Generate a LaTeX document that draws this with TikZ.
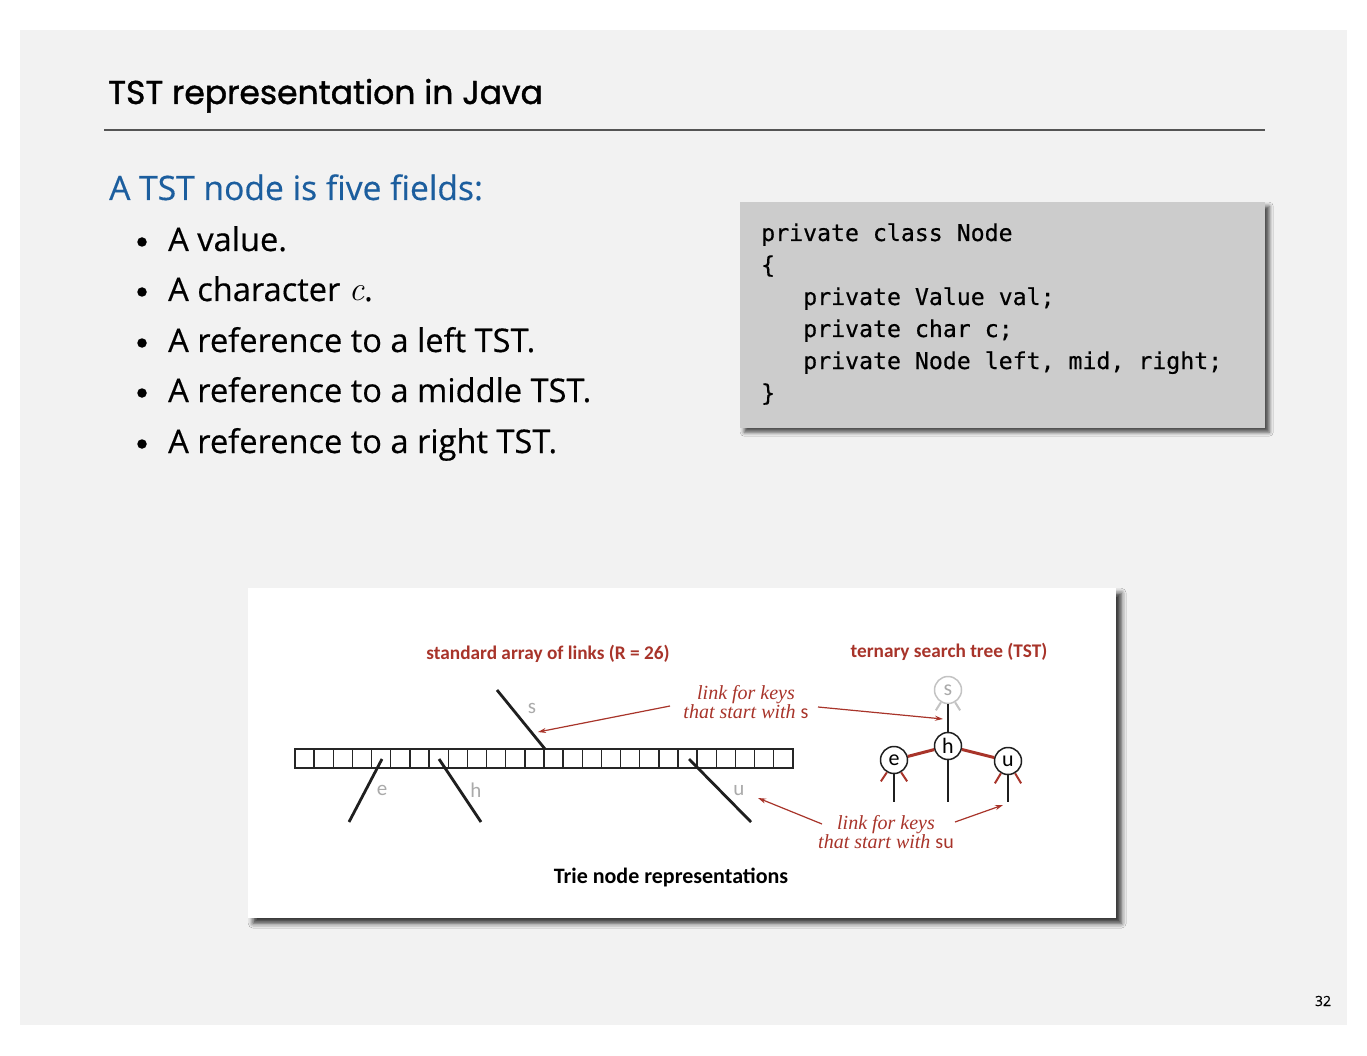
\documentclass[tikz,border=0pt]{standalone}
\usepackage{fontspec}
\setmainfont[FakeBold=0.4]{Open Sans}
\newfontfamily\titlefont[FakeBold=1.2]{Poppins}
\newfontfamily\codefont[FakeBold=0.5]{DejaVu Sans Mono}
\newfontfamily\labfont{Carlito}
\newfontfamily\serifit{Liberation Serif}
\newfontfamily\lmfont{Latin Modern Roman}
\usetikzlibrary{shadows.blur,arrows.meta}
\definecolor{slidebg}{HTML}{F2F2F2}
\definecolor{headblue}{RGB}{28,94,158}
\definecolor{linkred}{RGB}{168,52,42}
\definecolor{rulegray}{HTML}{555555}
\definecolor{codegray}{HTML}{CCCCCC}
\definecolor{ghost}{HTML}{AAAAAA}
\tikzset{
  bodytext/.style={anchor=base west, inner sep=0, font=\fontsize{32.6}{36}\selectfont},
  bulletmark/.style={circle, fill=black, minimum size=9.5pt, inner sep=0},
  codeline/.style={anchor=base west, inner sep=0, font=\codefont\fontsize{23.2}{28}\selectfont},
  codebox/.style={fill=codegray, anchor=north west, inner sep=0,
    blur shadow={shadow xshift=4pt, shadow yshift=-4pt, shadow blur radius=4pt, shadow opacity=70}},
  diagbox/.style={fill=white, anchor=north west, inner sep=0,
    blur shadow={shadow xshift=5pt, shadow yshift=-5pt, shadow blur radius=5pt, shadow opacity=80}},
  cell/.style={draw=black!85, line width=1.4pt},
  linkline/.style={draw=black!88, line width=2.8pt},
  ghostletter/.style={text=ghost, inner sep=0, font=\labfont\fontsize{21}{24}\selectfont},
  redlabel/.style={text=linkred, inner sep=0, font=\labfont\bfseries\fontsize{19.3}{22}\selectfont},
  itlabel/.style={text=linkred, inner sep=0, align=center, font=\serifit\itshape\fontsize{20}{17.5}\selectfont},
  pointer/.style={draw=linkred, line width=1.2pt, -{Stealth[length=8pt,width=5pt]}},
  tnode/.style={circle, draw=black!88, fill=white, line width=1.5pt, minimum size=27pt, inner sep=0,
    font=\labfont\fontsize{22}{24}\selectfont},
  gnode/.style={tnode, draw=ghost!70, text=ghost},
  midlink/.style={draw=black!88, line width=2.6pt},
  sidelink/.style={draw=linkred, line width=3pt},
  redtick/.style={draw=linkred, line width=2pt},
  greytick/.style={draw=ghost!70, line width=2pt},
}
\begin{document}
\begin{tikzpicture}[x=1pt,y=-1pt]
\useasboundingbox (0,0) rectangle (1367,1056);
\fill[white] (0,0) rectangle (1367,1056);
\fill[slidebg] (20,30) rectangle (1347,1025);

% title and rule
\node[anchor=base west, inner sep=0, font=\titlefont\fontsize{33}{40}\selectfont] (title) at (108,104) {TST representation in Java};
\draw[rulegray, line width=2pt] (104,130) -- (1265,130);

% heading and bullet list
\node[bodytext, text=headblue, font=\fontsize{33.6}{36}\selectfont] (head) at (109,200) {A TST node is five fields:};
\foreach \y/\t [count=\k] in {251/{A value.}, 301/{A character {\lmfont\itshape\fontsize{34}{36}\selectfont c}.}, 352/{A reference to a left TST.},
    402/{A reference to a middle TST.}, 453/{A reference to a right TST.}} {
  \node[bulletmark] (b\k) at (142,\y-9) {};
  \node[bodytext] (item\k) at (168,\y) {\t};
}

% code box
\node[codebox, minimum width=525pt, minimum height=226pt] (code) at (740,202) {};
\node[codeline] (c1) at (761,241) {private class Node};
\node[codeline] (c2) at (761,273) {\{};
\node[codeline] (c3) at (803,305) {private Value val;};
\node[codeline] (c4) at (803,337) {private char c;};
\node[codeline] (c5) at (803,369) {private Node left, mid, right;};
\node[codeline] (c6) at (761,401) {\}};

% diagram panel
\node[diagbox, minimum width=868pt, minimum height=330pt] (diag) at (248,588) {};

\node[redlabel] (arrtitle) at (548,654) {standard array of links (R = 26)};
\node[redlabel] (tsttitle) at (949,652) {ternary search tree (TST)};

% array of 26 links
\foreach \i in {0,...,25} {
  \draw[cell] ({295+\i*19.15},749) rectangle ++(19.15,19);
}
\coordinate (sTop) at (497,690);  \coordinate (sEnd) at (545,749);
\coordinate (eTop) at (382,759);  \coordinate (eEnd) at (349,822);
\coordinate (hTop) at (439,759);  \coordinate (hEnd) at (481,822);
\coordinate (uTop) at (689,759);  \coordinate (uEnd) at (751,822);
\draw[linkline] (sTop) -- (sEnd);
\draw[linkline] (eTop) -- (eEnd);
\draw[linkline] (hTop) -- (hEnd);
\draw[linkline] (uTop) -- (uEnd);
\node[ghostletter] (sl) at (532,708) {s};
\node[ghostletter] (el) at (382,790) {e};
\node[ghostletter] (hl) at (476,790) {h};
\node[ghostletter] (ul) at (739,791) {u};

% TST node
\node[gnode] (ts) at (948,690) {s};
\node[tnode] (th) at (948,746) {h};
\node[tnode] (te) at (894,760) {e};
\node[tnode] (tu) at (1008,761) {u};
\draw[midlink] (ts) -- (th);
\draw[sidelink] (th) -- (te);
\draw[sidelink] (th) -- (tu);
\coordinate (hDown) at (948,802);
\coordinate (eDown) at (894,802);
\coordinate (uDown) at (1008,802);
\draw[midlink] (th) -- (hDown);
\draw[midlink] (te) -- (eDown);
\draw[midlink] (tu) -- (uDown);
\draw[greytick] (ts.240) -- ++(-5,8);
\draw[greytick] (ts.300) -- ++(5,8);
\draw[redtick] (te.240) -- ++(-6,9);
\draw[redtick] (te.300) -- ++(6,9);
\draw[redtick] (tu.240) -- ++(-6,10);
\draw[redtick] (tu.300) -- ++(6,10);

% annotations
\node[itlabel] (lab1) at (746,702) {link for keys\\that start with {\upshape\labfont s}};
\node[itlabel] (lab2) at (886,832) {link for keys\\that start with {\upshape\labfont su}};
\coordinate (a1s) at (670,706); \coordinate (a1e) at (538,732);
\coordinate (a2s) at (818,707); \coordinate (a2e) at (943,719);
\coordinate (a3s) at (822,824); \coordinate (a3e) at (758,798);
\coordinate (a4s) at (955,822); \coordinate (a4e) at (1003,805);
\draw[pointer] (a1s) -- (a1e);
\draw[pointer] (a2s) -- (a2e);
\draw[pointer] (a3s) -- (a3e);
\draw[pointer] (a4s) -- (a4e);

\node[inner sep=0, font=\labfont\bfseries\fontsize{22}{24}\selectfont] (cap) at (671,877) {Trie node representations};

% page number
\node[inner sep=0, font=\fontsize{14}{16}\selectfont] (pageno) at (1323,1001) {32};
\end{tikzpicture}
\end{document}
